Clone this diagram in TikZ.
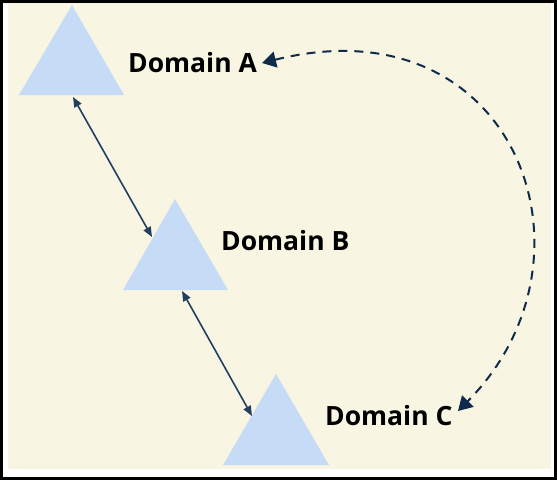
\documentclass[tikz,border=0pt]{standalone}
\usepackage{fontspec}
\setmainfont{Open Sans}
\usetikzlibrary{arrows.meta}
\definecolor{cream}{HTML}{F8F5E3}
\definecolor{triblue}{HTML}{C6DBF5}
\definecolor{navy}{HTML}{233F60}
\definecolor{darknavy}{HTML}{0F2A4A}
\tikzset{
  tri/.style={fill=triblue, draw=none},
  label/.style={font=\bfseries\fontsize{26.5}{30}\selectfont, anchor=base west, inner sep=0pt, text=black},
  link/.style={draw=navy, line width=1.6pt, {Triangle[length=10pt,width=8pt]}-{Triangle[length=10pt,width=8pt]}},
  dashlink/.style={draw=darknavy, line width=2pt, dash pattern=on 9pt off 7pt, {Triangle[length=14pt,width=16pt]}-{Triangle[length=14pt,width=16pt]}}
}
\begin{document}
\begin{tikzpicture}[x=1pt,y=-1pt]
\useasboundingbox (0,0) rectangle (557,480);
\fill[white] (0,0) rectangle (557,480);
\fill[cream] (8,3) rectangle (551,469);
\draw[black, line width=3pt] (1.5,1.5) rectangle (555.5,478.5);
% triangles
\path[tri] (72,5) -- (124,95) -- (19,95) -- cycle;
\path[tri] (175,199) -- (228,290) -- (123,290) -- cycle;
\path[tri] (276,374) -- (329,465) -- (223,465) -- cycle;
% labels
\node[label] (la) at (128,72) {Domain A};
\node[label] (lb) at (221,250) {Domain B};
\node[label] (lc) at (325,425) {Domain C};
% connector endpoints
\coordinate (a1) at (73,97);
\coordinate (b1) at (152,237);
\coordinate (b2) at (182,291);
\coordinate (c1) at (252,416);
\coordinate (da) at (262,63);
\coordinate (dc) at (458,411);
\draw[link] (a1) -- (b1);
\draw[link] (b2) -- (c1);
\draw[dashlink] (da) .. controls (515,0) and (610,258) .. (dc);
\end{tikzpicture}
\end{document}
